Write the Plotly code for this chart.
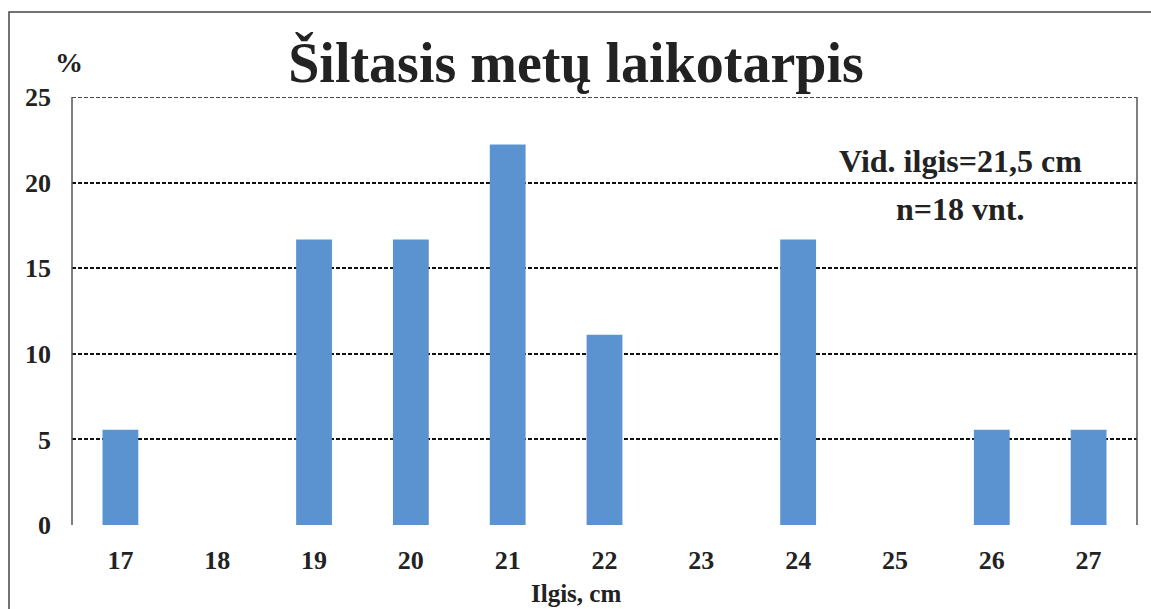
import plotly.graph_objects as go

categories = ["17", "18", "19", "20", "21", "22", "23", "24", "25", "26", "27"]
percent = [5.56, 0, 16.67, 16.67, 22.22, 11.11, 0, 16.67, 0, 5.56, 5.56]
y_ticks = [0, 5, 10, 15, 20, 25]

title_text = "Šiltasis metų laikotarpis"
x_title = "Ilgis, cm"
y_unit = "%"
note_lines = ["Vid. ilgis=21,5 cm", "n=18 vnt."]

FONT = "Liberation Serif"
INK = "#222"
W, H = 1151, 609
L, R, T, B = 72, 14, 97, 84
pw, ph = W - L - R, H - T - B


def px_x(x):
    return (x - L) / pw


def px_y(y):
    return (H - B - y) / ph


fig = go.Figure()
fig.add_trace(go.Bar(
    x=categories, y=percent,
    marker=dict(color="#5B93D1", line=dict(width=0)),
    hoverinfo="x+y",
))

fig.update_layout(
    width=W, height=H,
    margin=dict(l=L, r=R, t=T, b=B, autoexpand=False),
    paper_bgcolor="white", plot_bgcolor="white",
    bargap=0.63,
    showlegend=False,
    font=dict(family=FONT, color=INK),
    title=dict(text=f"<b>{title_text}</b>", x=px_x(576), xref="paper", xanchor="center",
               y=1 - 62 / H, yanchor="middle", yref="container",
               font=dict(size=56, family=FONT, color=INK)),
)

fig.update_xaxes(
    type="category", automargin=False,
    tickvals=categories, ticktext=[f"<b>{c}</b>" for c in categories],
    showgrid=False, zeroline=False, showline=False,
    ticks="", tickfont=dict(size=26, family=FONT, color=INK),
    ticklabelstandoff=17,
)
fig.update_yaxes(
    range=[0, 25], tickvals=y_ticks, automargin=False,
    ticktext=[f"<b>{v}</b>" for v in y_ticks],
    showgrid=True, gridcolor="#111", griddash="4px,2px", gridwidth=1.5,
    zeroline=False, showline=False, ticks="",
    tickfont=dict(size=26, family=FONT, color=INK),
    ticklabelstandoff=20,
)

# dashed top gridline at 25
fig.add_shape(type="line", xref="paper", yref="y", x0=0, x1=1, y0=25, y1=25,
              line=dict(color="#111", width=1.5, dash="4px,2px"))
# plot area left and right border lines
fig.add_shape(type="line", xref="paper", yref="paper", x0=0, x1=0, y0=0, y1=1,
              line=dict(color="#555", width=1.5))
fig.add_shape(type="line", xref="paper", yref="paper", x0=1, x1=1, y0=0, y1=1,
              line=dict(color="#555", width=1.5))
# outer frame
fig.add_shape(type="rect", xref="paper", yref="paper",
              x0=px_x(9), x1=px_x(1170), y0=px_y(650), y1=px_y(12),
              line=dict(color="#444", width=1.5), fillcolor="rgba(0,0,0,0)", layer="below")

fig.add_annotation(xref="paper", yref="paper", x=px_x(576), y=px_y(609),
                   xanchor="center", yanchor="bottom",
                   text=f"<b>{x_title}</b>", showarrow=False,
                   font=dict(size=25, family=FONT, color=INK))
fig.add_annotation(xref="paper", yref="paper", x=px_x(69), y=px_y(62),
                   xanchor="center", yanchor="middle",
                   text=f"<b>{y_unit}</b>", showarrow=False,
                   font=dict(size=28, family=FONT, color=INK))
fig.add_annotation(xref="paper", yref="paper", x=px_x(960), y=px_y(161),
                   xanchor="center", yanchor="middle",
                   text=f"<b>{note_lines[0]}</b>", showarrow=False,
                   font=dict(size=32, family=FONT, color=INK))
fig.add_annotation(xref="paper", yref="paper", x=px_x(960), y=px_y(209),
                   xanchor="center", yanchor="middle",
                   text=f"<b>{note_lines[1]}</b>", showarrow=False,
                   font=dict(size=32, family=FONT, color=INK))

fig.write_html("out.html", config={"displayModeBar": False},
               post_script="document.body.style.margin='0';document.body.style.overflow='hidden';")
